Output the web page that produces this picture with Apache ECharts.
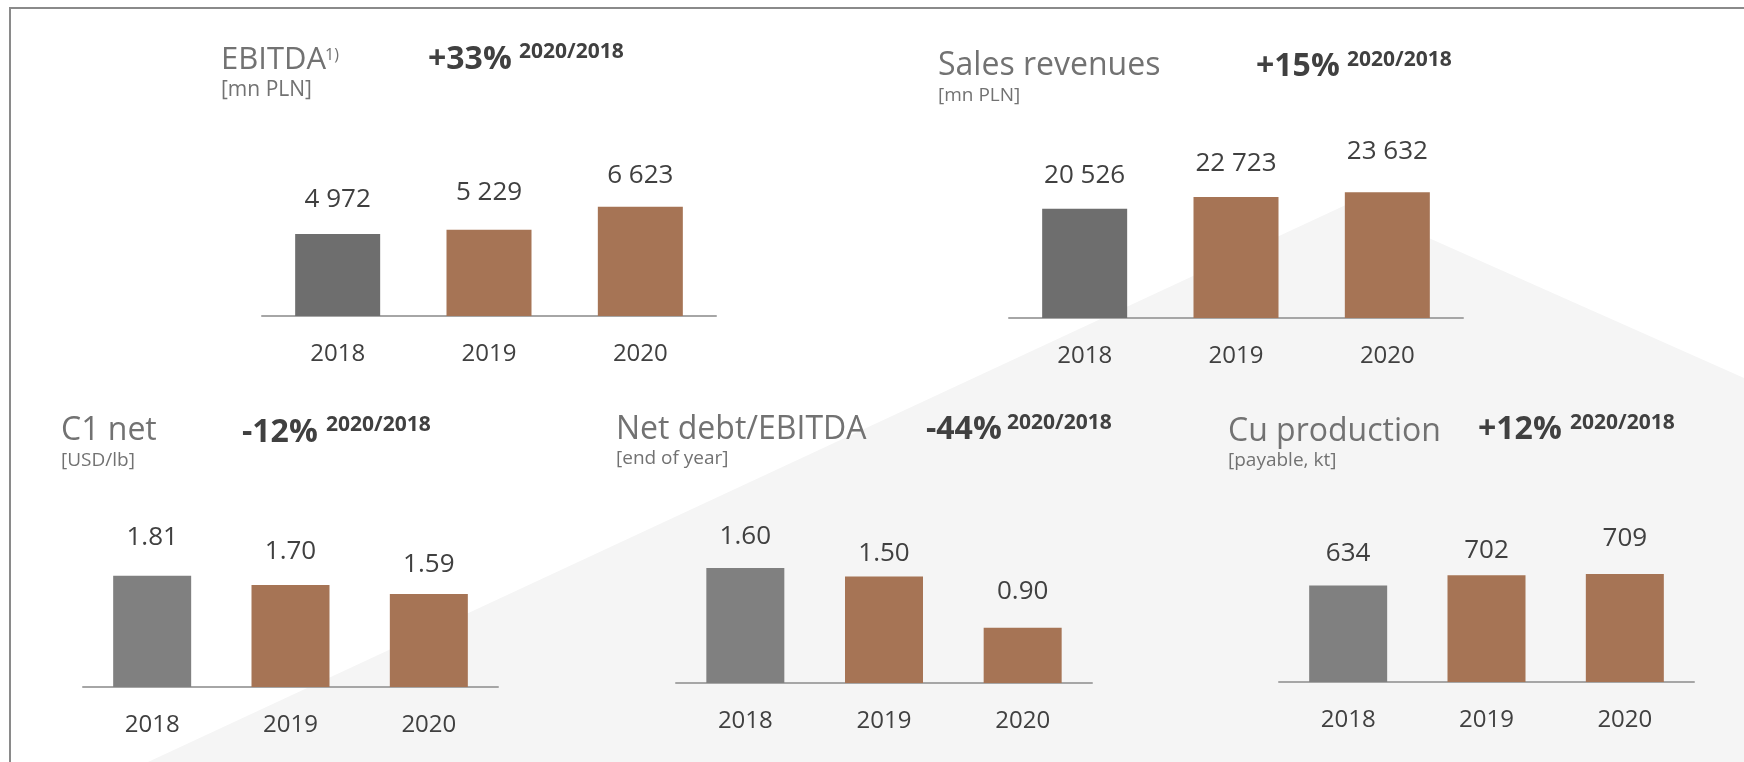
<!DOCTYPE html>
<html>
<head>
<meta charset="utf-8">
<title>KGHM key figures 2018-2020</title>
<script src="https://cdn.jsdelivr.net/npm/echarts@6/dist/echarts.min.js"></script>
<style>
  html, body { margin: 0; padding: 0; background: #ffffff; }
  #chart { width: 1744px; height: 762px; }
</style>
</head>
<body>
<div id="chart"></div>
<script>
// ---- data ----
const years = ['2018', '2019', '2020'];
const ebitda = [4972, 5229, 6623];            // mn PLN
const salesRevenues = [20526, 22723, 23632];  // mn PLN
const c1Net = [1.81, 1.70, 1.59];             // USD/lb
const netDebtToEbitda = [1.60, 1.50, 0.90];   // end of year
const cuProduction = [634, 702, 709];         // payable, kt

const panelTitles = ['EBITDA', 'Sales revenues', 'C1 net', 'Net debt/EBITDA', 'Cu production'];
const panelUnits = ['[mn PLN]', '[mn PLN]', '[USD/lb]', '[end of year]', '[payable, kt]'];
const changeLabels = ['+33%', '+15%', '-12%', '-44%', '+12%'];
const changeSpan = '2020/2018';
const ebitdaNote = '1)';

// ---- styling ----
const FONT = '"Open Sans", "Noto Sans", sans-serif';
const BROWN = '#a67455';
const TEXT_DARK = '#404040';
const TEXT_GREY = '#727272';

const fmtThousands = v => String(v).replace(/\B(?=(\d{3})+(?!\d))/g, ' ');
const fmtTwo = v => v.toFixed(2);

// layout of each small chart
const panels = [
  { values: ebitda, fmt: fmtThousands, grey: '#6e6e6e', barWidth: 85,
    grid: { left: 262, top: 184, width: 454, height: 132 }, min: 0, max: 8000,
    lift: [21.5, 24, 18],
    head: { x: 221, y: 60, titleSize: 31, subY: 90, subSize: 21, pctX: 428, pctY: 60, spanX: 519, spanY: 52 } },
  { values: salesRevenues, fmt: fmtThousands, grey: '#6e6e6e', barWidth: 85,
    grid: { left: 1009, top: 185, width: 454, height: 133 }, min: 0, max: 25000,
    lift: [20, 21, 27.5],
    head: { x: 938, y: 66, titleSize: 32, subY: 96, subSize: 19, pctX: 1256, pctY: 67, spanX: 1347, spanY: 60 } },
  { values: c1Net, fmt: fmtTwo, grey: '#808080', barWidth: 78,
    grid: { left: 83, top: 560, width: 415, height: 127 }, min: 0.47, max: 2.0,
    lift: [25, 20.5, 16],
    head: { x: 61, y: 431, titleSize: 32, subY: 461, subSize: 19, pctX: 242, pctY: 433, spanX: 326, spanY: 425 } },
  { values: netDebtToEbitda, fmt: fmtTwo, grey: '#808080', barWidth: 78,
    grid: { left: 676, top: 551, width: 416, height: 132 }, min: 0.25, max: 1.8,
    lift: [18, 10, 23],
    head: { x: 616, y: 430, titleSize: 32, subY: 459, subSize: 19, pctX: 926, pctY: 430, spanX: 1007, spanY: 423 } },
  { values: cuProduction, fmt: fmtThousands, grey: '#808080', barWidth: 78,
    grid: { left: 1279, top: 545, width: 415, height: 137 }, min: 0, max: 900,
    lift: [19, 11.5, 22.5],
    head: { x: 1228, y: 432, titleSize: 32, subY: 461, subSize: 19, pctX: 1478, pctY: 430, spanX: 1570, spanY: 423 } }
];

const grids = [], xAxes = [], yAxes = [], series = [];
const graphics = [
  // light grey backdrop shape
  { type: 'polygon', z: 0, silent: true,
    shape: { points: [[148, 762], [1350, 203], [1744, 378], [1744, 762]] },
    style: { fill: '#f5f5f5' } },
  // frame lines (top and left)
  { type: 'polyline', z: 1, silent: true,
    shape: { points: [[10, 762], [10, 8], [1744, 8]] },
    style: { stroke: '#8a8a8a', lineWidth: 2, fill: null } }
];

panels.forEach((p, i) => {
  grids.push(Object.assign({ containLabel: false }, p.grid));
  xAxes.push({
    type: 'category', gridIndex: i, data: years,
    axisTick: { show: false },
    axisLine: { lineStyle: { color: '#a6a6a6', width: 2 } },
    axisLabel: { fontFamily: FONT, fontSize: 24, color: TEXT_DARK, margin: 26 }
  });
  yAxes.push({ type: 'value', gridIndex: i, min: p.min, max: p.max, show: false, splitLine: { show: false } });
  series.push({
    type: 'bar', xAxisIndex: i, yAxisIndex: i, barWidth: p.barWidth,
    data: p.values.map((v, k) => ({ value: v, label: { distance: p.lift[k] } })),
    itemStyle: { color: params => params.dataIndex === 0 ? p.grey : BROWN },
    label: {
      show: true, position: 'top',
      fontFamily: FONT, fontSize: 26, color: TEXT_DARK,
      formatter: params => p.fmt(params.value)
    },
    emphasis: { disabled: true }
  });

  const h = p.head;
  graphics.push(
    { type: 'text', z: 10, x: h.x, y: h.y,
      style: { text: panelTitles[i], font: h.titleSize + 'px ' + FONT, fill: TEXT_GREY, align: 'left', verticalAlign: 'middle' } },
    { type: 'text', z: 10, x: h.x, y: h.subY,
      style: { text: panelUnits[i], font: h.subSize + 'px ' + FONT, fill: TEXT_GREY, align: 'left', verticalAlign: 'middle' } },
    { type: 'text', z: 10, x: h.pctX, y: h.pctY,
      style: { text: changeLabels[i], font: 'bold 32px ' + FONT, fill: TEXT_DARK, align: 'left', verticalAlign: 'middle' } },
    { type: 'text', z: 10, x: h.spanX, y: h.spanY,
      style: { text: changeSpan, font: 'bold 21px ' + FONT, fill: TEXT_DARK, align: 'left', verticalAlign: 'middle' } }
  );
});

// footnote marker next to the EBITDA heading
graphics.push({ type: 'text', z: 10, x: 325, y: 55,
  style: { text: ebitdaNote, font: '16px ' + FONT, fill: TEXT_GREY, align: 'left', verticalAlign: 'middle' } });

const chart = echarts.init(document.getElementById('chart'), null, { renderer: 'canvas' });
chart.setOption({
  backgroundColor: '#ffffff',
  animation: false,
  textStyle: { fontFamily: FONT },
  grid: grids,
  xAxis: xAxes,
  yAxis: yAxes,
  series: series,
  graphic: graphics
});
</script>
</body>
</html>
